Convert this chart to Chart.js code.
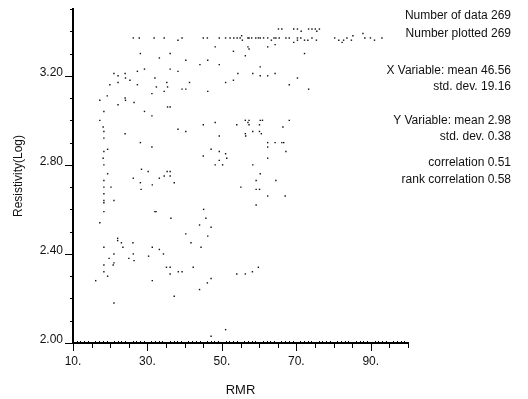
<!DOCTYPE html>
<html>
<head>
<meta charset="utf-8">
<script src="https://cdn.jsdelivr.net/npm/chart.js@4"></script>
<style>
  html, body { margin: 0; padding: 0; background: #fff; }
</style>
</head>
<body>
<canvas id="myChart" width="528" height="399"></canvas>
<script>
// RMR (x) and Resistivity(Log) (y)
let rmr = [
  26.2, 27.8, 31.8, 34.5, 28.1, 33.2, 29.2, 21.0, 22.1, 24.0, 24.1, 25.3, 27.3, 32.0, 35.2,
  19.9, 22.1, 27.3, 32.4, 35.4, 19.2, 24.0, 24.1, 26.4, 31.2, 34.5, 17.2, 22.1, 35.4, 18.3,
  29.2, 31.2, 17.2, 18.1, 18.3, 18.3, 24.0, 28.1, 31.2, 19.3, 18.3, 18.1, 18.3, 28.4, 30.2,
  35.3, 19.3, 34.5, 18.3, 26.2, 28.1, 33.2,
  38.2, 39.3, 45.0, 46.1, 49.3, 51.0, 52.2, 53.2, 54.1, 54.9, 55.3, 55.5, 57.0,
  48.2, 53.1, 56.3, 57.0, 36.1, 40.3, 46.2, 44.1, 49.3, 36.1, 38.2, 54.3, 41.3, 51.0, 53.1,
  39.3, 40.3, 46.2, 36.1, 45.0, 48.2, 54.0, 56.3, 57.0, 38.2, 40.3, 49.3, 56.3, 56.4,
  47.1, 49.3, 51.0, 45.0, 49.3, 51.3, 48.2, 50.2, 36.1, 36.1, 37.2,
  65.2, 66.1, 69.3, 70.3, 71.3, 73.3, 74.2, 75.1, 75.5, 76.2,
  57.3, 58.0, 59.1, 59.8, 60.3, 61.2, 62.3, 63.3, 64.0, 64.5, 65.4, 67.2, 68.1, 70.3, 71.2,
  72.2, 73.1, 74.2, 75.4, 69.3, 70.3, 62.3, 64.3, 57.3, 72.2,
  60.3, 58.3, 60.3, 62.3, 64.3, 70.3, 68.1, 73.3,
  57.3, 60.3, 60.9, 57.3, 60.1, 68.1, 66.4, 58.3, 60.1, 60.6,
  62.3, 62.3, 64.3, 66.1, 66.6, 67.2, 62.3, 58.3, 60.3, 59.2, 64.5,
  80.3, 81.4, 82.3, 82.7, 83.6, 85.2, 88.4, 89.9, 91.0, 93.0, 87.9, 84.8,
  18.3, 20.2, 28.3, 31.3, 18.3, 21.0, 18.3, 18.3, 18.3, 32.0, 32.3, 17.2,
  22.0, 22.0, 23.0, 23.4, 26.1, 18.3, 31.3, 21.0, 26.2, 30.3, 33.2, 34.3, 19.7, 25.0, 26.4,
  21.0, 20.8, 18.3, 35.1, 18.3, 19.3, 16.1, 31.3, 21.0,
  55.1, 45.1, 36.3, 45.7, 44.0, 47.1, 40.3, 46.2, 41.7, 44.4,
  36.1, 38.3, 39.3, 36.1, 42.3, 54.0, 56.3, 47.1, 46.1, 44.0, 37.2, 51.0, 47.1,
  59.2, 60.1, 62.3, 67.0, 59.2, 59.8, 58.2
];
let resistivity = [
  3.37, 3.37, 3.37, 3.37, 3.30, 3.28, 3.23, 3.21, 3.20, 3.21, 3.19, 3.18, 3.22, 3.19, 3.17,
  3.16, 3.17, 3.16, 3.15, 3.15, 3.11, 3.10, 3.09, 3.08, 3.12, 3.13, 3.09, 3.07, 3.06, 3.04,
  3.04, 3.02, 3.00, 2.97, 2.95, 2.92, 2.94, 2.90, 2.88, 2.87, 2.86, 2.83, 2.80, 2.78, 2.77,
  2.77, 2.76, 2.75, 2.73, 2.74, 2.72, 2.74,
  3.36, 3.37, 3.37, 3.37, 3.37, 3.37, 3.37, 3.37, 3.37, 3.37, 3.38, 3.36, 3.37,
  3.33, 3.31, 3.29, 3.33, 3.30, 3.27, 3.27, 3.25, 3.25, 3.23, 3.22, 3.21, 3.17, 3.17, 3.18,
  3.14, 3.14, 3.13, 3.06, 2.98, 2.99, 2.98, 3.00, 2.99, 2.96, 2.95, 2.93, 2.94, 2.93,
  2.87, 2.86, 2.85, 2.84, 2.82, 2.83, 2.80, 2.80, 2.77, 2.75, 2.72,
  3.41, 3.41, 3.41, 3.41, 3.40, 3.41, 3.41, 3.41, 3.40, 3.41,
  3.37, 3.37, 3.37, 3.37, 3.37, 3.37, 3.37, 3.36, 3.37, 3.37, 3.37, 3.37, 3.37, 3.37, 3.37,
  3.36, 3.36, 3.37, 3.36, 3.35, 3.36, 3.33, 3.34, 3.32, 3.30,
  3.24, 3.21, 3.20, 3.20, 3.21, 3.19, 3.16, 3.14,
  3.00, 3.00, 3.00, 2.98, 2.98, 3.00, 2.97, 2.95, 2.95, 2.94,
  2.90, 2.88, 2.90, 2.90, 2.90, 2.86, 2.83, 2.80, 2.76, 2.73, 2.73,
  3.37, 3.36, 3.35, 3.36, 3.37, 3.38, 3.37, 3.37, 3.36, 3.37, 3.39, 3.36,
  2.70, 2.70, 2.69, 2.71, 2.67, 2.64, 2.64, 2.63, 2.59, 2.59, 2.59, 2.54,
  2.47, 2.46, 2.45, 2.43, 2.45, 2.43, 2.43, 2.40, 2.40, 2.39, 2.42, 2.40, 2.38, 2.38, 2.37,
  2.36, 2.35, 2.35, 2.34, 2.32, 2.30, 2.28, 2.28, 2.18,
  2.70, 2.60, 2.56, 2.56, 2.53, 2.52, 2.49, 2.48, 2.45, 2.43,
  2.34, 2.32, 2.32, 2.31, 2.34, 2.31, 2.31, 2.29, 2.27, 2.24, 2.21, 2.06, 2.03,
  2.69, 2.69, 2.66, 2.66, 2.62, 2.34, 2.32
];

let xTickLabels = [10, 30, 50, 70, 90];
let yTickLabels = [2.0, 2.4, 2.8, 3.2];

let statNames = ["Number of data", "Number plotted", "X Variable: mean", "std. dev.",
                 "Y Variable: mean", "std. dev.", "correlation", "rank correlation"];
let statValues = ["269", "269", "46.56", "19.16", "2.98", "0.38", "0.51", "0.58"];
let statY = [16, 34, 71, 87, 121, 137, 163, 180];

const FONT = '"Liberation Sans", Arial, sans-serif';

// tick marks + the stats block on the right
const axisMarks = {
  id: 'axisMarks',
  afterDraw(chart) {
    let ctx = chart.ctx;
    let xs = chart.scales.x;
    let ys = chart.scales.y;
    let left = chart.chartArea.left;
    let bottom = chart.chartArea.bottom;
    ctx.save();
    ctx.strokeStyle = '#000';
    ctx.lineWidth = 1;
    ctx.beginPath();
    for (let v = 20; v <= 35; v++) {
      let py = Math.round(ys.getPixelForValue(v / 10)) + 0.5;
      let len = yTickLabels.includes(v / 10) ? 8 : 3;
      ctx.moveTo(left - len, py);
      ctx.lineTo(left, py);
    }
    for (let v = 10; v <= 100; v++) {
      let px = Math.round(xs.getPixelForValue(v)) + 0.5;
      if (xTickLabels.includes(v)) {
        ctx.moveTo(px, bottom); ctx.lineTo(px, bottom + 8);
      } else if (v % 5 === 0) {
        ctx.moveTo(px, bottom); ctx.lineTo(px, bottom + 5);
      } else {
        ctx.moveTo(px, bottom - 2); ctx.lineTo(px, bottom);
      }
    }
    ctx.stroke();

    ctx.fillStyle = '#111';
    ctx.font = '12px ' + FONT;
    ctx.textAlign = 'right';
    ctx.textBaseline = 'middle';
    for (let i = 0; i < statNames.length; i++) {
      ctx.fillText(statNames[i] + ' ' + statValues[i], 511, statY[i]);
    }
    ctx.restore();
  }
};

let points = rmr.map((v, i) => ({ x: v, y: resistivity[i] }));

let myChart = new Chart(document.getElementById("myChart").getContext("2d"), {
  type: 'scatter',
  data: {
    datasets: [{
      data: points,
      pointStyle: 'rect',
      pointRadius: 1,
      pointBorderWidth: 0,
      backgroundColor: '#111',
      borderColor: '#111'
    }]
  },
  options: {
    responsive: false,
    animation: false,
    layout: { padding: { left: 0, right: 120, top: 9, bottom: 0 } },
    plugins: { legend: { display: false }, tooltip: { enabled: false } },
    scales: {
      x: {
        type: 'linear',
        min: 10,
        max: 100,
        grid: { display: false, drawTicks: false },
        border: { display: true, color: '#000', width: 2 },
        ticks: {
          stepSize: 5,
          autoSkip: false,
          maxRotation: 0,
          padding: 11,
          color: '#111',
          font: { family: FONT, size: 12 },
          callback: v => xTickLabels.includes(v) ? v + '.' : ''
        },
        title: {
          display: true,
          text: 'RMR',
          color: '#111',
          font: { family: FONT, size: 13 },
          padding: { top: 0, bottom: 1 }
        },
        afterFit: s => { s.height = 56; s.paddingLeft = 0; s.paddingRight = 0; }
      },
      y: {
        type: 'linear',
        min: 2,
        max: 3.5,
        grid: { display: false, drawTicks: false },
        border: { display: true, color: '#000', width: 2 },
        ticks: {
          stepSize: 0.1,
          autoSkip: false,
          padding: 10,
          labelOffset: -3,
          color: '#111',
          font: { family: FONT, size: 12 },
          callback: v => yTickLabels.some(t => Math.abs(t - v) < 1e-6) ? v.toFixed(2) : ''
        },
        title: {
          display: true,
          text: 'Resistivity(Log)',
          color: '#111',
          font: { family: FONT, size: 12 },
          padding: { top: 11, bottom: 0 }
        },
        afterFit: s => { s.width = 73; s.paddingTop = 0; s.paddingBottom = 0; }
      }
    }
  },
  plugins: [axisMarks]
});
</script>
</body>
</html>
